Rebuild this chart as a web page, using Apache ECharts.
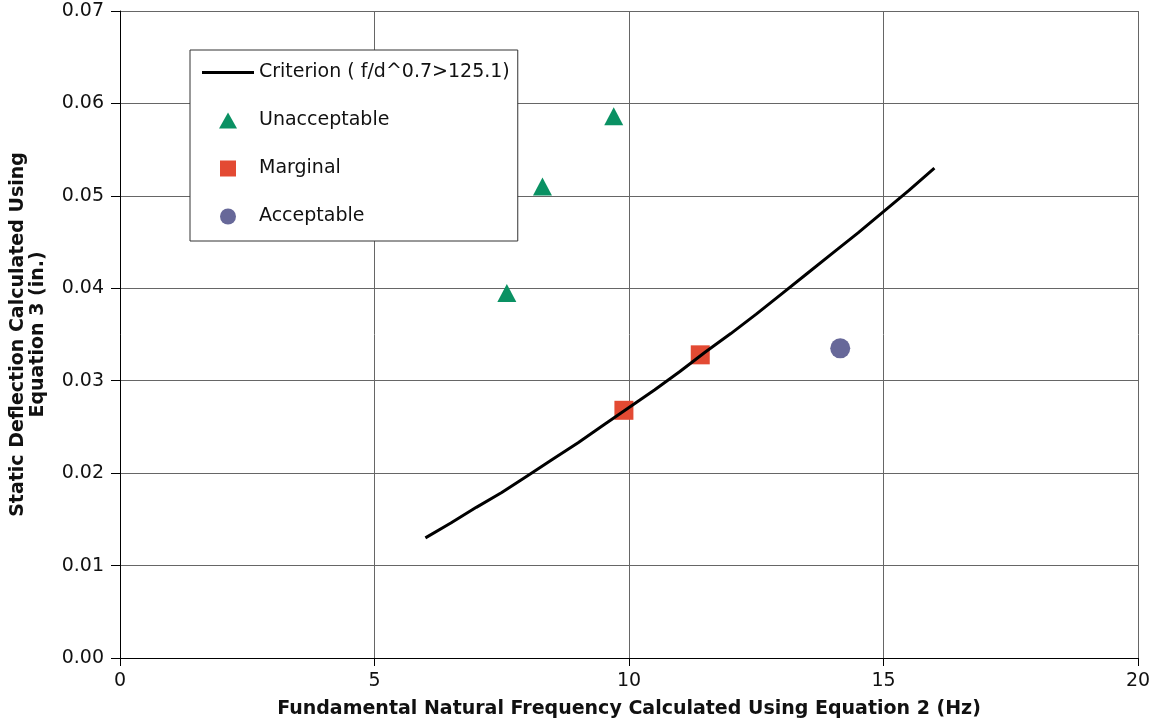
<!DOCTYPE html>
<html>
<head>
<meta charset="utf-8">
<script src="https://cdn.jsdelivr.net/npm/echarts@6/dist/echarts.min.js"></script>
<style>
	html, body { margin: 0; padding: 0; background: #fff; }
	#chart { width: 1156px; height: 721px; }
</style>
</head>
<body>
<div id="chart"></div>
<script>
	// 判据曲线 (f/d^0.7 = 125.1)
	const critFreq = [6, 6.5, 7, 7.5, 8, 8.5, 9, 9.5, 10, 10.5, 11, 11.5, 12, 12.5, 13, 13.5, 14, 14.5, 15, 15.5, 16]
	const critDefl = [0.0130, 0.0146, 0.0163, 0.0179, 0.0197, 0.0215, 0.0233, 0.0252, 0.0271, 0.0290, 0.0310, 0.0331, 0.0351, 0.0372, 0.0394, 0.0416, 0.0438, 0.0460, 0.0483, 0.0506, 0.0530]
	// 测点
	const unacceptFreq = [7.6, 8.3, 9.7]
	const unacceptDefl = [0.0395, 0.0510, 0.0586]
	const marginalFreq = [9.9, 11.4]
	const marginalDefl = [0.0268, 0.0328]
	const acceptFreq = [14.15]
	const acceptDefl = [0.0335]

	const seriesNames = ['Criterion ( f/d^0.7>125.1)', 'Unacceptable', 'Marginal', 'Acceptable']

	const zip = (xs, ys) => xs.map((x, i) => [x, ys[i]])
	const font = 'DejaVu Sans'

	const myChart = echarts.init(document.getElementById('chart'))
	myChart.setOption({
		backgroundColor: '#fff',
		animation: false,
		grid: { left: 120, right: 18, top: 11, bottom: 63, containLabel: false, outerBoundsMode: 'none' },
		legend: {
			left: 190,
			top: 50,
			orient: 'vertical',
			backgroundColor: '#fff',
			borderColor: '#333',
			borderWidth: 1,
			padding: [13, 8, 15, 12],
			itemWidth: 52,
			itemHeight: 16,
			itemGap: 29,
			symbolKeepAspect: true,
			textStyle: { fontFamily: font, fontSize: 19, color: '#111' },
			data: [
				{ name: seriesNames[0], icon: 'path://M0,0 L52,0 L52,3 L0,3 Z' },
				{ name: seriesNames[1], icon: 'path://M9,0 L18,16 L0,16 Z' },
				{ name: seriesNames[2], icon: 'path://M0,0 L16,0 L16,16 L0,16 Z' },
				{ name: seriesNames[3], icon: 'path://M0,8 A8,8 0 1,0 16,8 A8,8 0 1,0 0,8 Z' }
			]
		},
		xAxis: {
			type: 'value',
			min: 0, max: 20, interval: 5,
			name: 'Fundamental Natural Frequency Calculated Using Equation 2 (Hz)',
			nameLocation: 'middle',
			nameGap: 42,
			nameTextStyle: { fontFamily: font, fontSize: 19, fontWeight: 'bold', color: '#111' },
			axisLine: { lineStyle: { color: '#000', width: 1 } },
			axisTick: { show: true, length: 8, lineStyle: { color: '#000' } },
			axisLabel: { fontFamily: font, fontSize: 19, color: '#111', margin: 14 },
			splitLine: { show: true, lineStyle: { color: '#666', width: 1 } }
		},
		yAxis: {
			type: 'value',
			min: 0, max: 0.07, interval: 0.01,
			name: 'Static Deflection Calculated Using\nEquation 3 (in.)',
			nameLocation: 'middle',
			nameGap: 72,
			nameTextStyle: { fontFamily: font, fontSize: 19, fontWeight: 'bold', color: '#111', lineHeight: 20 },
			axisLine: { show: true, lineStyle: { color: '#000', width: 1 } },
			axisTick: { show: true, length: 9, lineStyle: { color: '#000' } },
			axisLabel: { fontFamily: font, fontSize: 19, color: '#111', margin: 16, padding: [7, 0, 0, 0], formatter: v => v.toFixed(2) },
			splitLine: { show: true, lineStyle: { color: '#666', width: 1 } }
		},
		series: [
			{
				name: seriesNames[0],
				type: 'line',
				data: zip(critFreq, critDefl),
				symbol: 'none',
				smooth: false,
				itemStyle: { color: '#000' },
				lineStyle: { color: '#000', width: 3 }
			},
			{
				name: seriesNames[1],
				type: 'scatter',
				data: zip(unacceptFreq, unacceptDefl),
				symbol: 'triangle',
				symbolSize: [19, 18],
				itemStyle: { color: '#0a9163', opacity: 1 }
			},
			{
				name: seriesNames[2],
				type: 'scatter',
				data: zip(marginalFreq, marginalDefl),
				symbol: 'rect',
				symbolSize: 19,
				itemStyle: { color: '#e34a33', opacity: 1 }
			},
			{
				name: seriesNames[3],
				type: 'scatter',
				data: zip(acceptFreq, acceptDefl),
				symbol: 'circle',
				symbolSize: 20,
				itemStyle: { color: '#676899', opacity: 1 }
			}
		]
	})
	// 自适应
	window.addEventListener('resize', function () {
		myChart.resize()
	})
</script>
</body>
</html>
